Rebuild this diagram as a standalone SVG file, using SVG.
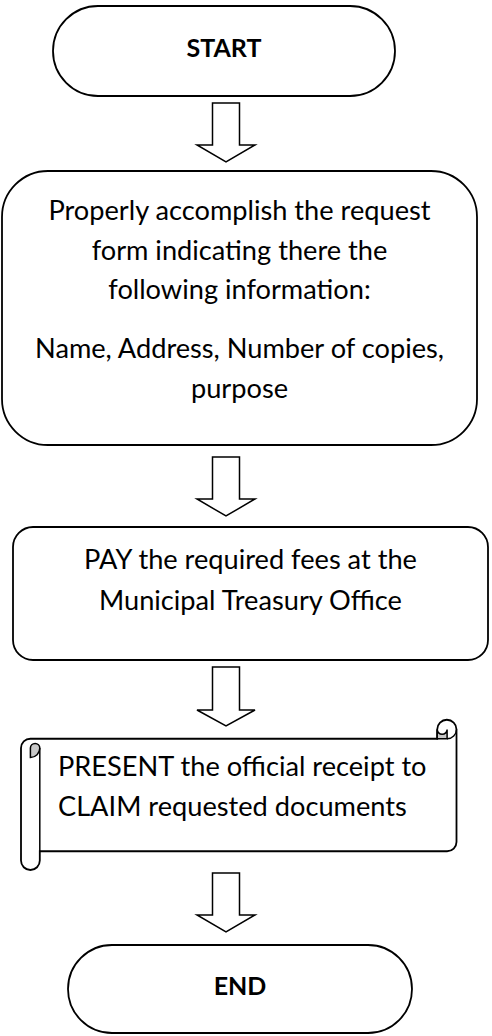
<svg xmlns="http://www.w3.org/2000/svg" width="492" height="1036" viewBox="0 0 492 1036">
<style>
.shape{fill:#fff;stroke:#000;stroke-width:1.8}
.arrow{fill:#fff;stroke:#000;stroke-width:1.5;stroke-linejoin:miter}
.curl{fill:#c8c8c8;stroke:#000;stroke-width:1.5}
.line{fill:none;stroke:#000;stroke-width:1.5}
.t{font-family:Lato,"Liberation Sans",sans-serif;font-size:27.2px;fill:#000}
.c{text-anchor:middle}
.b{font-weight:bold;font-size:25px}
</style>
<rect width="492" height="1036" fill="#fff"/>
<g id="connectors">
<path class="arrow" d="M212.5,103 L239.5,103 L239.5,145 L255,145 L226,162 L197,145 L212.5,145 Z"/>
<path class="arrow" d="M212.5,457 L239.5,457 L239.5,499 L255,499 L226,516 L197,499 L212.5,499 Z"/>
<path class="arrow" d="M212.5,667 L239.5,667 L239.5,710 L255,710 L226,726 L197,710 L212.5,710 Z"/>
<path class="arrow" d="M212.5,873 L239.5,873 L239.5,915 L255,915 L226,932 L197,915 L212.5,915 Z"/>
</g>
<g id="start">
<rect class="shape" x="53" y="6" width="342" height="90" rx="45" ry="45"/>
<text class="t c b" x="224" y="57">START</text>
</g>
<g id="step1">
<rect class="shape" x="2" y="171" width="475" height="274" rx="46" ry="46"/>
<text class="t c" x="239.5" y="220">Properly accomplish the request</text>
<text class="t c" x="239.5" y="259.5">form indicating there the</text>
<text class="t c" x="239.5" y="299">following information:</text>
<text class="t c" x="239.5" y="358">Name, Address, Number of copies,</text>
<text class="t c" x="239.5" y="397.5">purpose</text>
</g>
<g id="step2">
<rect class="shape" x="13" y="527" width="475" height="133" rx="20" ry="20"/>
<text class="t c" x="250.5" y="569">PAY the required fees at the</text>
<text class="t c" x="250.5" y="610">Municipal Treasury Office</text>
</g>
<g id="step3">
<path class="shape" d="M21,748.1 A9.4,9.4 0 0 1 30.4,738.75 L437.2,738.75 L437.2,729.4 A9.4,9.4 0 0 1 456.5,729.4 L456.5,841.9 A9.4,9.4 0 0 1 447.1,851.25 L39.8,851.25 L39.8,860.6 A9.4,9.4 0 0 1 21,860.6 Z"/>
<path class="curl" d="M447.1,738.75 L447.1,729.4 A4.8,4.8 0 0 1 437.2,729.4 L437.2,738.75 Z"/>
<path class="line" d="M456.5,729.4 A9.4,9.4 0 0 1 447.1,738.75"/>
<path class="curl" d="M30.4,757.5 L30.4,748.1 A4.7,4.7 0 0 1 39.8,748.1 A9.4,9.4 0 0 1 30.4,757.5 Z"/>
<path class="line" d="M39.8,748.1 L39.8,851.25"/>
<text class="t" x="58" y="776">PRESENT the official receipt to</text>
<text class="t" x="58" y="816">CLAIM requested documents</text>
</g>
<g id="end">
<rect class="shape" x="68" y="945" width="344" height="88" rx="44" ry="44"/>
<text class="t c b" x="240" y="995">END</text>
</g>
</svg>
